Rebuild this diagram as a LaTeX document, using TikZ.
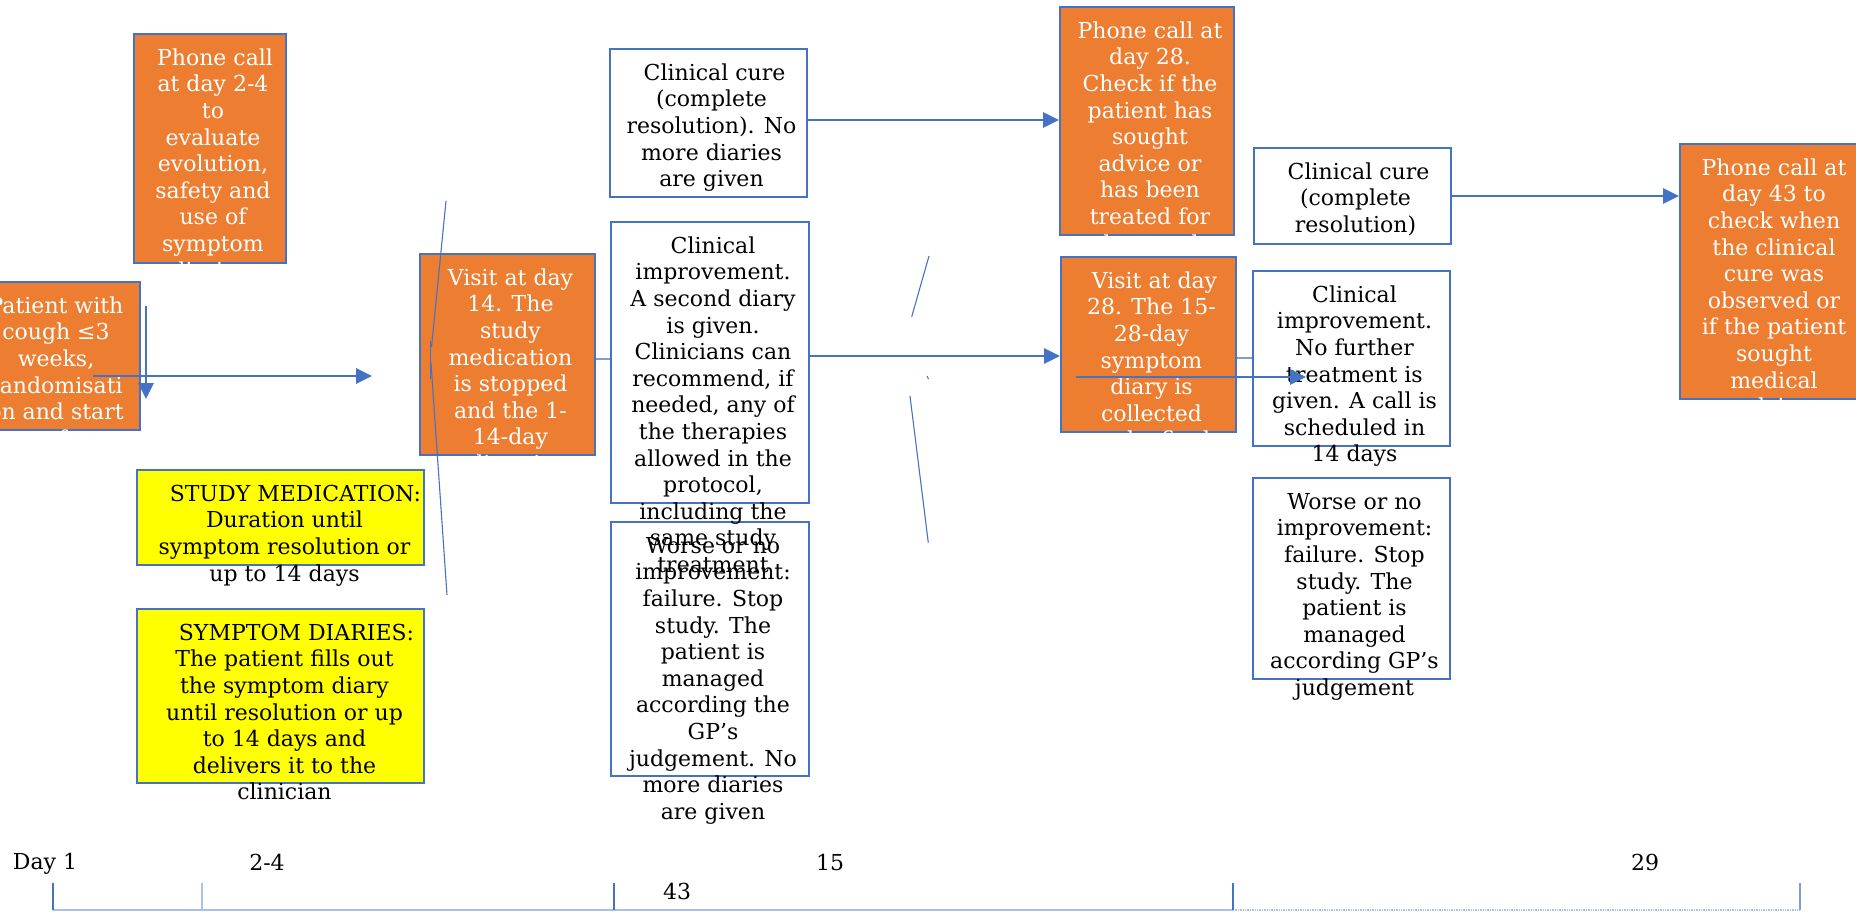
\documentclass[tikz,border=0pt]{standalone}
\usepackage{fontspec}
\setmainfont{DejaVu Serif}
\usetikzlibrary{arrows.meta}
\definecolor{obox}{HTML}{ED7D31}
\definecolor{bline}{HTML}{4472C4}
\definecolor{lline}{HTML}{7B9ED8}
\definecolor{tline}{HTML}{A9C0E8}
\definecolor{ybox}{HTML}{FFFF00}
\tikzset{
  bx/.style={draw=bline, line width=1.8pt, inner sep=0pt},
  obx/.style={bx, fill=obox},
  wbx/.style={bx, fill=white},
  ybx/.style={bx, fill=ybox},
  txt/.style={anchor=north, align=center, inner sep=0pt, font=\fontsize{22}{26.6}\selectfont, xshift=3pt, yshift=-14pt},
  wtxt/.style={txt, text=white},
  arr/.style={draw=bline, line width=2.7pt, -{Triangle[length=16pt,width=15pt]}},
  thinl/.style={draw=bline, line width=1.1pt},
  conn/.style={draw=lline, line width=1.3pt},
  lbl/.style={anchor=base, inner sep=0pt, font=\fontsize{22}{26.6}\selectfont},
  tick/.style={draw=bline, line width=1.1pt}
}
\newcommand{\fl}{\rule{0pt}{18pt}}
\begin{document}
\begin{tikzpicture}[x=1pt,y=-1pt]
\useasboundingbox (0,0) rectangle (1856,911);
% ---------- boxes
\node[obx, minimum width=174pt, minimum height=148pt] (pat) at (53,356) {};
\node[obx, minimum width=152pt, minimum height=229pt] (p24) at (210,148.5) {};
\node[obx, minimum width=175pt, minimum height=201pt] (v14) at (507.5,354.5) {};
\node[ybx, minimum width=287pt, minimum height=95pt] (sm) at (280.5,517.5) {};
\node[ybx, minimum width=287pt, minimum height=174pt] (sd) at (280.5,696) {};
\node[wbx, minimum width=197pt, minimum height=148pt] (cc1) at (708.5,123) {};
\node[wbx, minimum width=198pt, minimum height=281pt] (ci1) at (710,362.5) {};
\node[wbx, minimum width=198pt, minimum height=254pt] (w1) at (710,649) {};
\node[obx, minimum width=174pt, minimum height=228pt] (p28) at (1147,121) {};
\node[obx, minimum width=175pt, minimum height=175pt] (v28) at (1148.5,344.5) {};
\node[wbx, minimum width=197pt, minimum height=96pt] (cc2) at (1352.5,196) {};
\node[wbx, minimum width=197pt, minimum height=175pt] (ci2) at (1351.5,358.5) {};
\node[wbx, minimum width=197pt, minimum height=201pt] (w2) at (1351.5,578.5) {};
\node[obx, minimum width=182pt, minimum height=255pt] (d43) at (1771,271.5) {};
% ---------- texts in orange boxes (clipped)
\begin{scope}
\clip (pat.south west) rectangle (pat.north east);
\node[wtxt] (patT) at (pat.north) {\fl Patient with\\cough ≤3\\weeks,\\randomisati\\on and start\\of};
\end{scope}
\begin{scope}
\clip (p24.south west) rectangle (p24.north east);
\node[wtxt] (p24T) at (p24.north) {\fl\hspace*{4pt}Phone call\\at day 2-4\\to\\evaluate\\evolution,\\safety and\\use of\\symptom\\diaries,};
\end{scope}
\begin{scope}
\clip (v14.south west) rectangle (v14.north east);
\node[wtxt] (v14T) at (v14.north) {\fl Visit at day\\14. The\\study\\medication\\is stopped\\and the 1-\\14-day\\diary is};
\end{scope}
\begin{scope}
\clip (p28.south west) rectangle (p28.north east);
\node[wtxt] (p28T) at (p28.north) {\fl Phone call at\\day 28.\\Check if the\\patient has\\sought\\advice or\\has been\\treated for\\the cough};
\end{scope}
\begin{scope}
\clip (v28.south west) rectangle (v28.north east);
\node[wtxt] (v28T) at (v28.north) {\fl\hspace*{6pt}Visit at day\\28. The 15-\\28-day\\symptom\\diary is\\collected\\and a final};
\end{scope}
\begin{scope}
\clip (d43.south west) rectangle (d43.north east);
\node[wtxt] (d43T) at (d43.north) {\fl Phone call at\\day 43 to\\check when\\the clinical\\cure was\\observed or\\if the patient\\sought\\medical\\advice};
\end{scope}
% ---------- texts in yellow and white boxes
\node[txt, xshift=1pt] (smT) at (sm.north) {\fl\hspace*{22pt}STUDY MEDICATION:\\Duration until\\symptom resolution or\\up to 14 days};
\node[txt, xshift=1pt] (sdT) at (sd.north) {\fl\hspace*{24pt}SYMPTOM DIARIES:\\The patient fills out\\the symptom diary\\until resolution or up\\to 14 days and\\delivers it to the\\clinician};
\node[txt] (cc1T) at (cc1.north) {\fl\hspace*{6pt}Clinical cure\\(complete\\resolution). No\\more diaries\\are given};
\node[txt] (ci1T) at (ci1.north) {\fl Clinical\\improvement.\\A second diary\\is given.\\Clinicians can\\recommend, if\\needed, any of\\the therapies\\allowed in the\\protocol,\\including the\\same study\\treatment};
\node[txt] (w1T) at (w1.north) {\fl Worse or no\\improvement:\\failure. Stop\\study. The\\patient is\\managed\\according the\\GP’s\\judgement. No\\more diaries\\are given};
\node[txt] (cc2T) at (cc2.north) {\fl\hspace*{6pt}Clinical cure\\(complete\\resolution)};
\node[txt] (ci2T) at (ci2.north) {\fl Clinical\\improvement.\\No further\\treatment is\\given. A call is\\scheduled in\\14 days};
\node[txt] (w2T) at (w2.north) {\fl Worse or no\\improvement:\\failure. Stop\\study. The\\patient is\\managed\\according GP’s\\judgement};
% ---------- thin connectors
\coordinate (t1) at ([yshift=-4.5pt]v14.east);
\draw[conn] (t1) -- (t1 -| ci1.west);
\coordinate (t2) at ([yshift=-13.5pt]v28.east);
\draw[conn] (t2) -- (t2 -| ci2.west);
% ---------- brace-like thin lines
\draw[thinl] (446,201) -- (431.5,347);
\draw[thinl] (430.5,341) -- (430.5,379);
\draw[thinl] (431,363) -- (447,595);
\draw[thinl] (929,256) -- (911.7,316.7);
\draw[thinl] (927,376) -- (928.5,379);
\draw[thinl] (910,396) -- (928.3,542.7);
% ---------- arrows
\coordinate (a1s) at (93,376);
\coordinate (a1e) at (372,376);
\draw[arr] (a1s) -- (a1e);
\coordinate (a2s) at (146,306);
\coordinate (a2e) at (146,399);
\draw[arr] (a2s) -- (a2e);
\coordinate (a3s) at ([yshift=3pt]cc1.east);
\draw[arr] (a3s) -- (a3s -| p28.west);
\coordinate (a4s) at ([yshift=6.5pt]ci1.east);
\draw[arr] (a4s) -- (a4s -| v28.west);
\coordinate (a5s) at (1076,377);
\coordinate (a5e) at (1306,377);
\draw[arr] (a5s) -- (a5e);
\coordinate (a6s) at (cc2.east);
\draw[arr] (a6s) -- (a6s -| d43.west);
% ---------- timeline
\coordinate (k1) at (53,883);
\coordinate (k2) at (202,883);
\coordinate (k3) at (614,883);
\coordinate (k4) at (1233,883);
\coordinate (k5) at (1800,883);
\coordinate (b1) at (53,910);
\coordinate (b4) at (1233,910);
\coordinate (b5) at (1800,910);
\draw[draw=tline, line width=1.6pt] (b1) -- (b4);
\draw[draw=tline, line width=1.4pt, densely dotted] (b4) -- (b5);
\draw[tick] (k1) -- (k1 |- b1);
\draw[tick, draw=tline] (k2) -- (k2 |- b1);
\draw[tick] (k3) -- (k3 |- b1);
\draw[tick] (k4) -- (k4 |- b1);
\draw[tick, draw=lline] (k5) -- (k5 |- b1);
\node[lbl] (d1) at (45,869) {Day 1};
\node[lbl] (d24) at (267,870) {2-4};
\node[lbl] (d15) at (830,870) {15};
\node[lbl] (d43l) at (677,899) {43};
\node[lbl] (d29) at (1645,870) {29};
\end{tikzpicture}
\end{document}
